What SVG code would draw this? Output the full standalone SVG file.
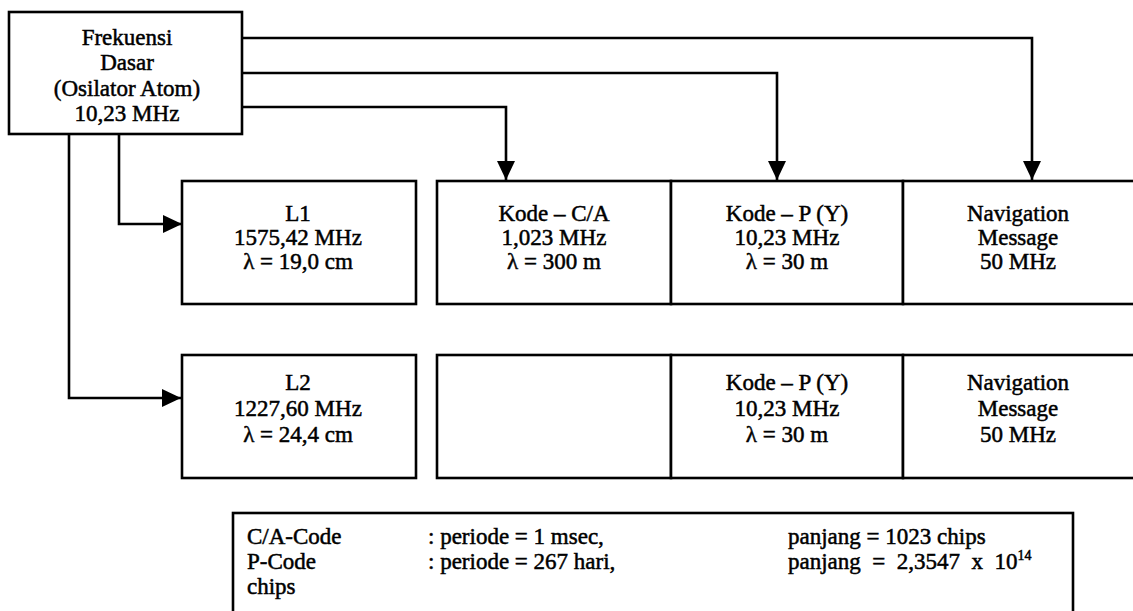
<svg xmlns="http://www.w3.org/2000/svg" width="1133" height="611" viewBox="0 0 1133 611">
<style>
.box{fill:#fff;stroke:#000;stroke-width:2.6}
.ln{fill:none;stroke:#000;stroke-width:2.6}
text{font-family:"Liberation Serif","Times New Roman",serif;font-size:23px;fill:#000;stroke:#000;stroke-width:0.5}
.c{text-anchor:middle}
</style>
<defs>
<marker id="ah" markerUnits="userSpaceOnUse" markerWidth="19" markerHeight="18" refX="19" refY="9" orient="auto">
<path d="M0,0 L19,9 L0,18 z" fill="#000"/>
</marker>
</defs>
<rect width="1133" height="611" fill="#fff"/>
<g id="connectors">
<path class="ln" d="M242,38 H1032 V180" marker-end="url(#ah)"/>
<path class="ln" d="M242,73 H777 V180" marker-end="url(#ah)"/>
<path class="ln" d="M242,107 H506 V180" marker-end="url(#ah)"/>
<path class="ln" d="M119,134 V224 H182" marker-end="url(#ah)"/>
<path class="ln" d="M69,134 V398 H181" marker-end="url(#ah)"/>
</g>
<g id="source">
<rect class="box" x="9" y="12" width="233" height="122"/>
<text class="c" x="127" y="45">Frekuensi</text>
<text class="c" x="127" y="70">Dasar</text>
<text class="c" x="127" y="96">(Osilator Atom)</text>
<text class="c" x="127" y="121">10,23 MHz</text>
</g>
<g id="l1">
<rect class="box" x="182" y="181" width="234" height="123"/>
<text class="c" x="298" y="221">L1</text>
<text class="c" x="298" y="245">1575,42 MHz</text>
<text class="c" x="298" y="269">λ = 19,0 cm</text>
</g>
<g id="ca1">
<rect class="box" x="437" y="181" width="234" height="123"/>
<text class="c" x="554" y="221">Kode – C/A</text>
<text class="c" x="554" y="245">1,023 MHz</text>
<text class="c" x="554" y="269">λ = 300 m</text>
</g>
<g id="p1">
<rect class="box" x="671" y="181" width="232" height="123"/>
<text class="c" x="787" y="221">Kode – P (Y)</text>
<text class="c" x="787" y="245">10,23 MHz</text>
<text class="c" x="787" y="269">λ = 30 m</text>
</g>
<g id="nav1">
<rect class="box" x="903" y="181" width="240" height="123"/>
<text class="c" x="1018" y="221">Navigation</text>
<text class="c" x="1018" y="245">Message</text>
<text class="c" x="1018" y="269">50 MHz</text>
</g>
<g id="l2">
<rect class="box" x="182" y="355" width="234" height="123"/>
<text class="c" x="298" y="390">L2</text>
<text class="c" x="298" y="416">1227,60 MHz</text>
<text class="c" x="298" y="442">λ = 24,4 cm</text>
</g>
<g id="empty2">
<rect class="box" x="437" y="355" width="234" height="123"/>
</g>
<g id="p2">
<rect class="box" x="671" y="355" width="232" height="123"/>
<text class="c" x="787" y="390">Kode – P (Y)</text>
<text class="c" x="787" y="416">10,23 MHz</text>
<text class="c" x="787" y="442">λ = 30 m</text>
</g>
<g id="nav2">
<rect class="box" x="903" y="355" width="240" height="123"/>
<text class="c" x="1018" y="390">Navigation</text>
<text class="c" x="1018" y="416">Message</text>
<text class="c" x="1018" y="442">50 MHz</text>
</g>
<g id="legend">
<rect class="box" x="233" y="513" width="840" height="110"/>
<text x="247" y="544">C/A-Code</text>
<text x="247" y="569">P-Code</text>
<text x="247" y="594">chips</text>
<text x="428" y="544">: periode = 1 msec,</text>
<text x="428" y="569">: periode = 267 hari,</text>
<text x="788" y="544">panjang = 1023 chips</text>
<text x="788" y="569" xml:space="preserve">panjang  =  2,3547  x  10<tspan dy="-9" font-size="14">14</tspan></text>
</g>
</svg>
